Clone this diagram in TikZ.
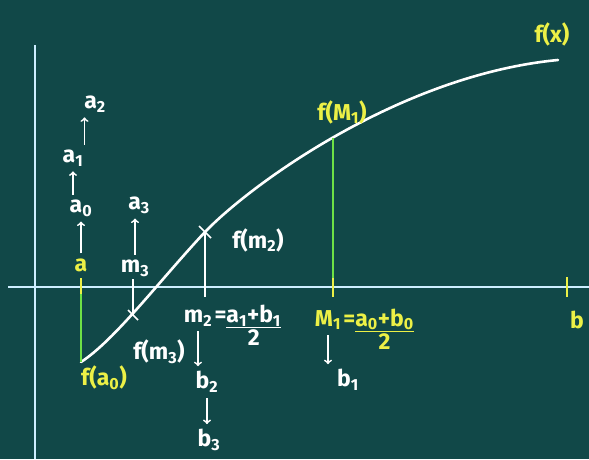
\documentclass[tikz,border=0pt]{standalone}
\usepackage{fontspec}
\setmainfont{Fira Sans}
\setsansfont{Fira Sans}
\definecolor{board}{RGB}{17,72,72}
\definecolor{axisblue}{RGB}{205,238,255}
\definecolor{chalkyellow}{RGB}{236,240,70}
\definecolor{chalkgreen}{RGB}{110,225,70}
\newcommand\idx[1]{\textsubscript{#1}}
\begin{document}
\begin{tikzpicture}[x=1pt, y=-1pt,
    chalk/.style={font=\fontsize{23}{26}\selectfont\bfseries, text=white, inner sep=1pt},
    yellowchalk/.style={chalk, text=chalkyellow},
    axisline/.style={draw=axisblue, line width=2.6pt},
    curveline/.style={draw=white, line width=2.6pt, line cap=round},
    greenline/.style={draw=chalkgreen, line width=1.8pt},
    whiteline/.style={draw=white, line width=1.6pt},
    ytick/.style={draw=chalkyellow, line width=2.4pt},
    chalkarrow/.style={draw=white, line width=1.8pt, ->, shorten >=4pt, shorten <=4pt}]
  \fill[board] (0,0) rectangle (589,459);
  \useasboundingbox (0,0) rectangle (589,459);
  % axes
  \draw[axisline] (35,45) -- (35,459);
  \draw[axisline] (8,287) -- (589,287);
  % points on the axis and on the curve
  \coordinate (ta) at (81,287);
  \coordinate (tm2) at (205,297);
  \coordinate (tM1) at (333,297);
  \coordinate (fa) at (81,362);
  \coordinate (fm3) at (133,315);
  \coordinate (fm2) at (205,232);
  \coordinate (fM1) at (333,138);
  \coordinate (fend) at (558,60);
  % f(x)
  \draw[curveline] (fa) .. controls (115,340) and (160,280) .. (fm2)
    .. controls (250,185) and (400,75) .. (fend);
  \draw[greenline] (fa) -- (ta);
  \draw[greenline] (fM1) -- (tM1);
  \draw[whiteline] (fm3) -- (133,279);
  \draw[whiteline] (fm2) -- (tm2);
  \draw[whiteline] (199,226) -- (211,238) (199,238) -- (211,226);
  \draw[whiteline] (128,310) -- (138,320);
  \draw[ytick] (81,278) -- (81,294);
  \draw[ytick] (333,278) -- (333,297);
  \draw[ytick] (567,277) -- (567,297);
  % labels
  \node[yellowchalk] (fx) at (552,34) {f(x)};
  \node[yellowchalk] (fM1lbl) at (342,112) {f(M\idx{1})};
  \node[chalk] (fm2lbl) at (258,240) {f(m\idx{2})};
  \node[chalk] (fm3lbl) at (159,352) {f(m\idx{3})};
  \node[yellowchalk] (fa0lbl) at (104,378) {f(a\idx{0})};
  \node[yellowchalk] (a) at (81,265) {a};
  \node[chalk] (a0) at (81,208) {a\idx{0}};
  \node[chalk] (a1) at (73,158) {a\idx{1}};
  \node[chalk] (a2) at (95,104) {a\idx{2}};
  \node[chalk] (m3) at (135,268) {m\idx{3}};
  \node[chalk] (a3) at (139,205) {a\idx{3}};
  \node[chalk] (m2) at (198,318) {m\idx{2}};
  \node[chalk, anchor=base west] (m2frac) at (m2.base east)
    {=\begin{tabular}[t]{@{}c@{}}a\idx{1}+b\idx{1}\\[-3pt]\hline 2\end{tabular}};
  \node[chalk] (b2) at (207,382) {b\idx{2}};
  \node[chalk] (b3) at (209,440) {b\idx{3}};
  \node[yellowchalk] (M1) at (328,320) {M\idx{1}};
  \node[yellowchalk, anchor=base west] (M1frac) at (M1.base east)
    {=\begin{tabular}[t]{@{}c@{}}a\idx{0}+b\idx{0}\\[-3pt]\hline 2\end{tabular}};
  \node[chalk] (b1) at (348,380) {b\idx{1}};
  \node[yellowchalk] (b) at (577,320) {b};
  % arrows
  \draw[chalkarrow] (a) -- (a |- a0.south);
  \draw[chalkarrow] (a1 |- a0.north) -- (a1);
  \draw[chalkarrow] (a1.north east) -- (a1.north east |- a2.south);
  \draw[chalkarrow] (m3) -- (m3 |- a3.south);
  \draw[chalkarrow] (m2) -- (m2 |- b2.north);
  \draw[chalkarrow] (b2) -- (b2 |- b3.north);
  \draw[chalkarrow] (M1) -- (M1 |- b1.north);
\end{tikzpicture}
\end{document}
